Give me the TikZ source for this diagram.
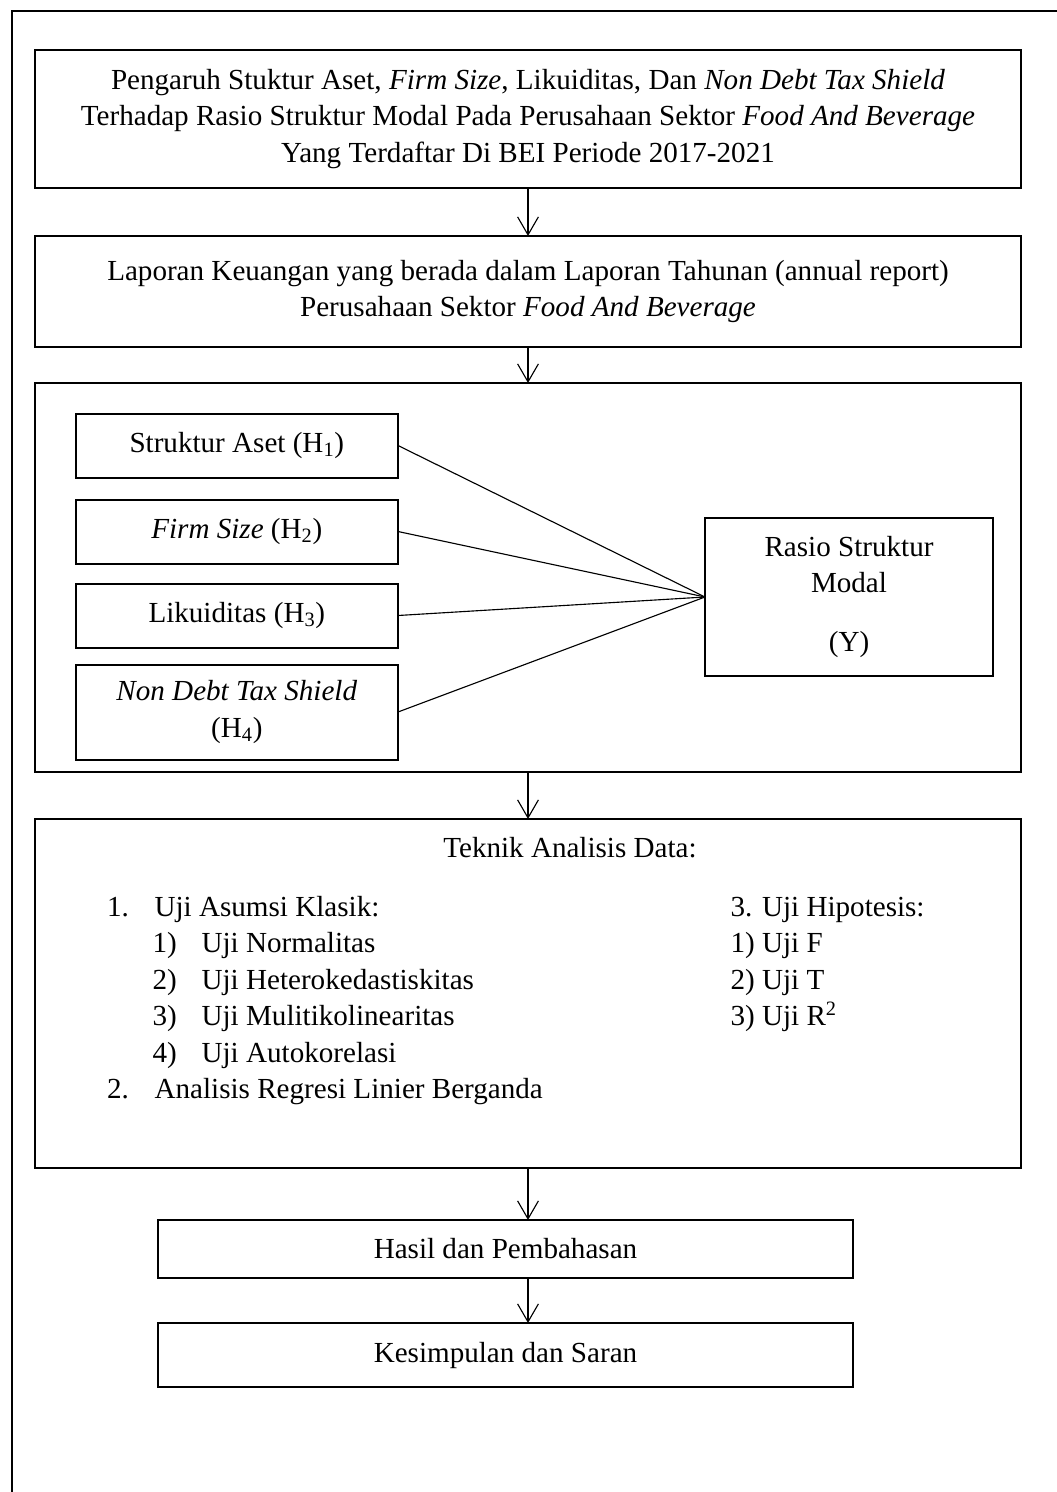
\documentclass[tikz,border=0pt]{standalone}
\usepackage{fontspec}
\setmainfont{Liberation Serif}
\usepackage{tikz}
\usetikzlibrary{positioning,arrows.meta}
\tikzset{%
	block/.style    = {draw, rectangle, line width=0.05cm, inner sep=0pt,
		outer sep=0pt, align=center},
	wide/.style     = {minimum width=24.65cm},
	hbox/.style     = {minimum width=8.06cm, minimum height=1.6cm}
}

\begin{document}
\begin{tikzpicture}[thick, node distance=1.2cm,
          >={Straight Barb[length=0.45cm,width=0.52cm]},
          font=\fontsize{20.7}{26}\selectfont]
        \useasboundingbox (0,0) rectangle (26.425,-37.3);
        \draw[line width=0.05cm] (26.425,-0.27) -| (0.29,-37.3);
        \draw
        	node at (13.2,-2.975)[block, wide, name=jd, minimum height=3.45cm]
        		{Pengaruh Stuktur Aset, \textit{Firm Size}, Likuiditas, Dan \textit{Non Debt Tax Shield}\\
        		 Terhadap Rasio Struktur Modal Pada Perusahaan Sektor \textit{Food And Beverage}\\
        		 Yang Terdaftar Di BEI Periode 2017-2021}
        	node [block, wide, below=1.2cm of jd, minimum height=2.775cm] (lk)
        		{Laporan Keuangan yang berada dalam Laporan Tahunan (annual report)\\
        		 Perusahaan Sektor \textit{Food And Beverage}}
        	node [block, wide, below=0.9cm of lk, minimum height=9.725cm] (var) {}
        	node [block, wide, below=1.175cm of var, minimum height=8.725cm] (tad) {}
        	node [block, below=1.3cm of tad, xshift=-0.5625cm, minimum width=17.36cm,
        		minimum height=1.45cm] (hp) {Hasil dan Pembahasan}
        	node [block, below=1.125cm of hp, minimum width=17.36cm,
        		minimum height=1.6cm] (ks) {Kesimpulan dan Saran};
        	
        \draw
        	node at (5.92,-11.1375)[block, hbox, name=h1] {Struktur Aset (H\textsubscript{1})}
        	node [block, hbox, below=0.55cm of h1] (h2) {\textit{Firm Size} (H\textsubscript{2})}
        	node [block, hbox, below=0.5cm of h2] (h3) {Likuiditas (H\textsubscript{3})}
        	node [block, hbox, below=0.425cm of h3, minimum height=2.375cm] (h4)
        		{\textit{Non Debt Tax Shield}\\(H\textsubscript{4})}
        	node at (21.225,-14.925)[block, name=rsm, minimum width=7.2cm, minimum height=3.95cm]
        		{Rasio Struktur\\Modal\\[0.56cm](Y)};
        	
        \node at (14.25,-21.425)[anchor=base, inner sep=0pt] (tad_t) {Teknik Analisis Data:};
        \node at (2.6625,-22.9)[anchor=base west, inner sep=0pt] (tad_l) {%
        	\begin{tabular}[t]{@{}l@{}}
        	\makebox[1.19cm][l]{1.}Uji Asumsi Klasik:\\
        	\hspace{1.14cm}\makebox[1.225cm][l]{1)}Uji Normalitas\\
        	\hspace{1.14cm}\makebox[1.225cm][l]{2)}Uji Heterokedastiskitas\\
        	\hspace{1.14cm}\makebox[1.225cm][l]{3)}Uji Mulitikolinearitas\\
        	\hspace{1.14cm}\makebox[1.225cm][l]{4)}Uji Autokorelasi\\
        	\makebox[1.19cm][l]{2.}Analisis Regresi Linier Berganda
        	\end{tabular}};
        \node at (18.25,-22.9)[anchor=base west, inner sep=0pt] (tad_r) {%
        	\begin{tabular}[t]{@{}l@{}}
        	3. Uji Hipotesis:\\
        	1) Uji F\\
        	2) Uji T\\
        	3) Uji R\textsuperscript{2}
        	\end{tabular}};
        	
        	\draw[->](jd) -- (lk);
        	\draw[->](lk) -- (var);
        	\draw[->](var) -- (tad);
        	\draw[->](tad.south) -- (tad.south |- hp.north);
        	\draw[->](tad.south |- hp.south) -- (tad.south |- ks.north);
        	
        	\draw (h1.east) -- (rsm.west);
        	\draw (h2.east) -- (rsm.west);
        	\draw (h3.east) -- (rsm.west);
        	\draw (h4.east) -- (rsm.west);
\end{tikzpicture}
\end{document}
